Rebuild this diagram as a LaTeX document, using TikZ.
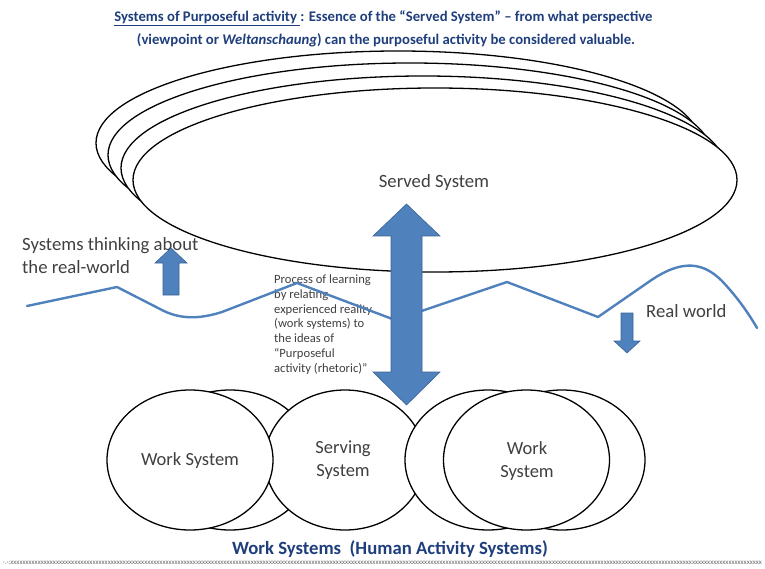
\documentclass[tikz,border=0pt]{standalone}
\usepackage{fontspec}
\setmainfont{Carlito}
\usetikzlibrary{shapes.geometric}
\definecolor{titleblue}{HTML}{1F3E7C}
\definecolor{txtgray}{HTML}{404040}
\definecolor{arrowfill}{HTML}{4F81BD}
\definecolor{arrowedge}{HTML}{3A6496}
\definecolor{wave}{HTML}{4F81BD}
\tikzset{
  bigell/.style={ellipse, draw=black, line width=1.3pt, fill=white, minimum width=604pt, minimum height=184pt, inner sep=0pt},
  circ/.style={ellipse, draw=black, line width=1.3pt, fill=white, minimum width=166pt, minimum height=140pt, inner sep=0pt},
  blockarrow/.style={fill=arrowfill, draw=arrowedge, line width=0.6pt, line join=miter},
  lbl/.style={text=txtgray, font=\fontsize{18.7}{23}\selectfont, inner sep=0pt},
  circlbl/.style={text=txtgray, font=\fontsize{18.5}{23}\selectfont, inner sep=0pt, align=center},
  ttl/.style={text=titleblue, font=\bfseries\fontsize{14.7}{22}\selectfont, inner sep=0pt},
  bttl/.style={text=titleblue, font=\bfseries\fontsize{18.7}{22}\selectfont, inner sep=0pt},
  small/.style={text=txtgray, font=\fontsize{12.6}{14.7}\selectfont, inner sep=0pt, align=left}
}
\begin{document}
\begin{tikzpicture}[x=1pt,y=-1pt]
\useasboundingbox (0,0) rectangle (765,569);
% title
\node[ttl] (t1) at (383.5,18) {\underline{Systems of Purposeful activity\ }: Essence of the “Served System” – from what perspective};
\node[ttl] (t2) at (386,40) {(viewpoint or \textit{Weltanschaung}) can the purposeful activity be considered valuable.};
% served system ellipses
\node[bigell] (e4) at (398,143) {};
\node[bigell] (e3) at (410,155) {};
\node[bigell] (e2) at (423,168) {};
\node[bigell] (e1) at (435,180) {};
\node[lbl] (served) at (434,183) {Served System};
% labels
\node[lbl, anchor=west, align=left] (thinking) at (22,256) {Systems thinking about\\the real-world};
\node[lbl, anchor=west] (real) at (646,311) {Real world};
\node[small, anchor=base west] (process) at (274,372) {Process of learning\\by relating\\experienced reality\\(work systems) to\\the ideas of\\“Purposeful\\activity (rhetoric)”};
% wavy real-world line
\draw[wave, line width=2.4pt, line join=round, line cap=round]
  (27,306) -- (117,287) -- (160,309) .. controls (180,320) and (200,319) .. (222,312)
  -- (297,283) -- (395,320) -- (507,282) -- (598,317) -- (650,281)
  .. controls (682,259) and (703,262) .. (722,281) .. controls (738,298) and (749,314) .. (757,328);
% bottom work systems
\node[circ] (wback) at (230,460) {};
\node[circ, minimum width=160pt] (serving) at (345,460) {};
\node[circ] (work1) at (190,460) {};
\node[circ] (rback1) at (488,460) {};
\node[circ] (rback2) at (562,460) {};
\node[circ] (work2) at (526.5,460) {};
\node[circlbl] (wl1) at (190,461) {Work System};
\node[circlbl] (sl) at (343,460) {Serving\\System};
\node[circlbl] (wl2) at (527,461) {Work\\System};
% block arrows
\draw[blockarrow] (406.5,204) -- (440,236) -- (422,236) -- (422,372) -- (440,372) -- (406.5,405)
  -- (373,372) -- (391,372) -- (391,236) -- (373,236) -- cycle;
\draw[blockarrow] (171,248) -- (187,263) -- (179,263) -- (179,295) -- (163,295) -- (163,263) -- (155,263) -- cycle;
\draw[blockarrow] (627,353) -- (640,341) -- (633,341) -- (633,313) -- (621,313) -- (621,341) -- (614,341) -- cycle;
% bottom title
\node[bttl] (bt) at (390,549) {Work Systems\ \ (Human Activity Systems)};
\node[anchor=west, inner sep=0pt, text=gray!80!black, font=\fontsize{7}{7}\selectfont] (xrow) at (3,563)
  {\hbox to 759pt{·.·:\xleaders\hbox{x}\hfill}};
\end{tikzpicture}
\end{document}
